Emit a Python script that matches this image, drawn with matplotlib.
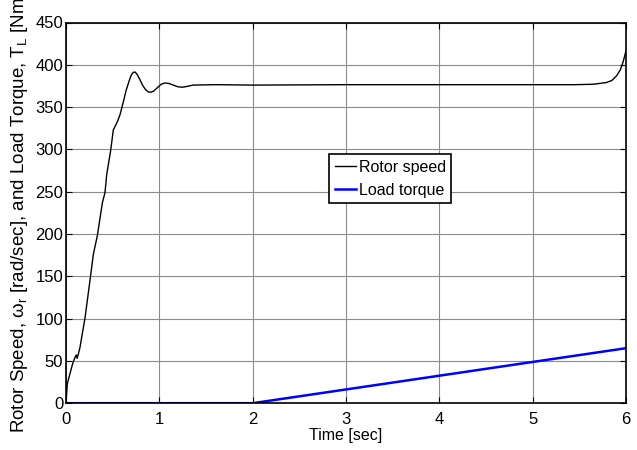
import matplotlib
matplotlib.use("Agg")
import matplotlib.pyplot as plt
import numpy as np

plt.rcParams['font.family'] = ['Liberation Sans', 'DejaVu Sans']
plt.rcParams['mathtext.fontset'] = 'custom'
plt.rcParams['mathtext.rm'] = 'Liberation Sans'
plt.rcParams['mathtext.it'] = 'Liberation Sans'

# rotor speed
t_speed = [0, 0.014, 0.043, 0.072, 0.096, 0.11, 0.12, 0.132, 0.15, 0.204, 0.257, 0.293,
           0.336, 0.39, 0.418, 0.436, 0.479, 0.507, 0.525, 0.555, 0.579, 0.614, 0.645,
           0.68, 0.70, 0.72, 0.74, 0.76, 0.79, 0.82, 0.85, 0.88, 0.91, 0.94, 0.98,
           1.02, 1.06, 1.10, 1.15, 1.20, 1.25, 1.30, 1.36, 1.6, 2.0, 3.0, 4.0,
           5.0, 5.45, 5.65, 5.79, 5.85, 5.90, 5.94, 5.97, 6.0]
speed = [0, 23, 35, 47, 54, 57, 53, 58, 66, 101, 145, 176,
         198, 237, 249, 270, 299, 323, 327, 334, 341, 356, 370,
         382, 388, 391, 391.5, 389, 383, 376, 371, 368, 367.5, 369, 373,
         377, 378.5, 378, 376, 374, 373.5, 374.5, 376, 376.5, 376, 376.5, 376.5,
         376.5, 376.5, 377, 379, 381.5, 387, 394, 403.5, 416]

# load torque: zero, then ramp from 2 s
t_load = [0, 2, 6]
load = [0, 0, 65]

fig = plt.figure(figsize=(6.37, 4.5), dpi=100)
ax = fig.add_axes([0.1036, 0.104, 0.879, 0.846])

ax.plot(t_speed, speed, color='k', lw=1.0, label='Rotor speed')
ax.plot(t_load, load, color='#0000ff', lw=1.8, label='Load torque')

ax.set_xlim(0, 6)
ax.set_ylim(0, 450)
ax.set_xticks(range(0, 7))
ax.set_yticks(range(0, 451, 50))
ax.grid(True, color='#8c8c8c', lw=0.8)
ax.tick_params(direction='in', top=True, right=True, labelsize=12, length=4)
ax.tick_params(axis='x', pad=6)
ax.tick_params(axis='y', pad=2)
for s in ax.spines.values():
    s.set_linewidth(1.2)

ax.set_xlabel('Time [sec]', fontsize=11.5, labelpad=1)
ax.set_ylabel(r'Rotor Speed, $\omega_r$ [rad/sec], and Load Torque, T$_L$ [Nm]',
              fontsize=13.5, labelpad=4)

leg = ax.legend(loc='upper left', bbox_to_anchor=(0.47, 0.654), borderaxespad=0,
                fontsize=11.5, handlelength=1.3, handletextpad=0.2, fancybox=False,
                framealpha=1, edgecolor='k', borderpad=0.35, labelspacing=0.5)
leg.get_frame().set_linewidth(1.2)

fig.savefig('out.png', dpi=100)
